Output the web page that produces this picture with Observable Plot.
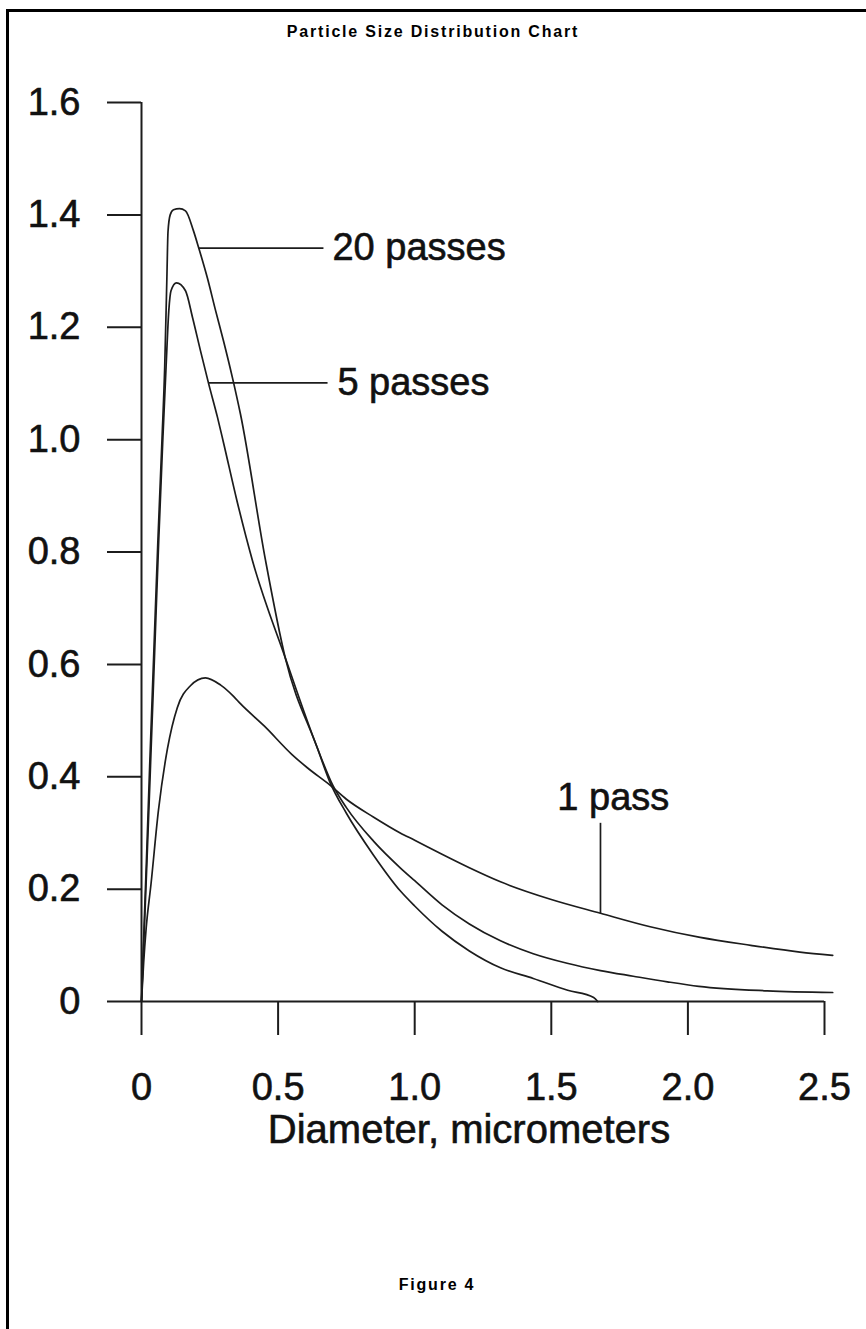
<!DOCTYPE html>
<html>
<head>
<meta charset="utf-8">
<script src="https://cdn.jsdelivr.net/npm/d3@7"></script>
<script src="https://cdn.jsdelivr.net/npm/@observablehq/plot@0.6"></script>
<style>
  html, body { margin: 0; padding: 0; background: #fff; }
  #page { position: relative; width: 866px; height: 1329px; overflow: hidden;
          font-family: "Liberation Sans", Arial, Helvetica, sans-serif; background: #fff; }
  #frame { position: absolute; left: 6px; top: 9px; width: 880px; height: 1400px;
           border-left: 3px solid #000; border-top: 3px solid #000; box-sizing: border-box; }
  .cap { position: absolute; left: 0; width: 866px; text-align: center; font-weight: bold;
         font-size: 16px; letter-spacing: 1.8px; color: #000; line-height: 18px; }
  #title { top: 23px; }
  #caption { top: 1276px; left: 4px; }
  #chart { position: absolute; left: 0; top: 60px; }
  #chart svg text { stroke: #111; stroke-width: 0.6px; }
</style>
</head>
<body>
<div id="page">
  <div id="frame"></div>
  <div id="title" class="cap">Particle Size Distribution Chart</div>
  <div id="chart"></div>
  <div id="caption" class="cap">Figure 4</div>
</div>
<script>
// ---- data ----
const xTicks = [0, 0.5, 1.0, 1.5, 2.0, 2.5];
const yTicks = [0, 0.2, 0.4, 0.6, 0.8, 1.0, 1.2, 1.4, 1.6];
const xAxisLabel = "Diameter, micrometers";

const pass1Diameter = [0, 0.008, 0.017, 0.035, 0.062, 0.095, 0.131, 0.179, 0.234, 0.29, 0.337, 0.362, 0.45, 0.55, 0.607, 0.69, 0.75, 0.85, 0.947, 1.0, 1.1, 1.2, 1.314, 1.497, 1.68, 1.862, 2.045, 2.23, 2.41, 2.53];
const pass1Value    = [0, 0.07, 0.13, 0.21, 0.34, 0.45, 0.523, 0.562, 0.576, 0.563, 0.543, 0.53, 0.49, 0.44, 0.416, 0.385, 0.36, 0.328, 0.30, 0.287, 0.262, 0.238, 0.213, 0.182, 0.157, 0.133, 0.114, 0.10, 0.088, 0.082];

const pass5Diameter = [0, 0.008, 0.02, 0.033, 0.048, 0.063, 0.078, 0.09, 0.1, 0.108, 0.128, 0.161, 0.187, 0.216, 0.245, 0.278, 0.30, 0.35, 0.406, 0.526, 0.643, 0.70, 0.75, 0.85, 0.947, 1.0, 1.1, 1.2, 1.314, 1.434, 1.558, 1.68, 1.80, 1.925, 2.04, 2.29, 2.53];
const pass5Value    = [0, 0.1, 0.25, 0.42, 0.62, 0.82, 1.0, 1.13, 1.23, 1.265, 1.279, 1.265, 1.217, 1.158, 1.101, 1.04, 0.995, 0.89, 0.785, 0.612, 0.452, 0.385, 0.345, 0.285, 0.238, 0.215, 0.172, 0.138, 0.108, 0.085, 0.068, 0.055, 0.045, 0.035, 0.027, 0.019, 0.016];

const pass20Diameter = [0, 0.007, 0.018, 0.03, 0.045, 0.06, 0.075, 0.085, 0.093, 0.097, 0.105, 0.117, 0.139, 0.161, 0.19, 0.209, 0.241, 0.271, 0.30, 0.333, 0.362, 0.454, 0.526, 0.643, 0.69, 0.75, 0.85, 0.947, 1.0, 1.1, 1.2, 1.314, 1.434, 1.56, 1.655, 1.67];
const pass20Value    = [0, 0.1, 0.25, 0.42, 0.62, 0.82, 1.0, 1.13, 1.29, 1.37, 1.40, 1.409, 1.411, 1.407, 1.372, 1.342, 1.288, 1.23, 1.176, 1.11, 1.046, 0.785, 0.612, 0.452, 0.39, 0.335, 0.26, 0.197, 0.17, 0.125, 0.09, 0.06, 0.041, 0.02, 0.007, 0.0];

const seriesNames = ["20 passes", "5 passes", "1 pass"];
const labelX = [0.699, 0.717, 1.522];
const labelY = [1.341, 1.101, 0.34];
// leader lines: [x1, y1, x2, y2]
const leader20 = [0.209, 1.341, 0.666, 1.341];
const leader5  = [0.245, 1.101, 0.681, 1.101];
const leader1  = [1.68, 0.157, 1.68, 0.318];

// ---- build tables ----
const toRows = (xs, ys) => xs.map((x, i) => ({x, y: ys[i]}));
const rows1 = toRows(pass1Diameter, pass1Value);
const rows5 = toRows(pass5Diameter, pass5Value);
const rows20 = toRows(pass20Diameter, pass20Value);
const labels = seriesNames.map((name, i) => ({name, x: labelX[i], y: labelY[i]}));
const leaders = [leader20, leader5, leader1].map(([x1, y1, x2, y2]) => ({x1, y1, x2, y2}));

const fmt = d => d === 0 ? "0" : d.toFixed(1);
const ink = "#1c1c1c";

const chart = Plot.plot({
  width: 866,
  height: 1120,
  marginLeft: 141,
  marginRight: 42,
  marginTop: 42,
  marginBottom: 179,
  x: {domain: [0, 2.5]},
  y: {domain: [0, 1.6]},
  style: {fontFamily: '"Liberation Sans", Arial, Helvetica, sans-serif', color: "#111", background: "transparent", overflow: "visible"},
  marks: [
    Plot.axisY(yTicks, {tickSize: 34, tickPadding: 27, fontSize: 38, tickFormat: fmt, label: null, stroke: ink, strokeWidth: 2}),
    Plot.axisX(xTicks, {tickSize: 34, tickPadding: 38, fontSize: 38, tickFormat: fmt, label: null, stroke: ink, strokeWidth: 2}),
    Plot.ruleX([0], {y1: 0, y2: 1.6, stroke: ink, strokeWidth: 2}),
    Plot.ruleY([0], {x1: 0, x2: 2.5, stroke: ink, strokeWidth: 2}),
    Plot.line(rows1, {x: "x", y: "y", curve: "monotone-x", stroke: ink, strokeWidth: 1.7}),
    Plot.line(rows5, {x: "x", y: "y", curve: "monotone-x", stroke: ink, strokeWidth: 1.7}),
    Plot.line(rows20, {x: "x", y: "y", curve: "monotone-x", stroke: ink, strokeWidth: 1.7}),
    Plot.link(leaders, {x1: "x1", y1: "y1", x2: "x2", y2: "y2", stroke: ink, strokeWidth: 1.7}),
    Plot.text(labels.slice(0, 2), {x: "x", y: "y", text: "name", textAnchor: "start", lineAnchor: "middle", fontSize: 38, fill: "#111"}),
    Plot.text(labels.slice(2), {x: "x", y: "y", text: "name", textAnchor: "start", lineAnchor: "bottom", fontSize: 38, fill: "#111"}),
    Plot.text([xAxisLabel], {frameAnchor: "bottom", dy: 141, dx: -14, lineAnchor: "bottom", fontSize: 40, fill: "#111"})
  ]
});
document.getElementById("chart").appendChild(chart);
</script>
</body>
</html>
